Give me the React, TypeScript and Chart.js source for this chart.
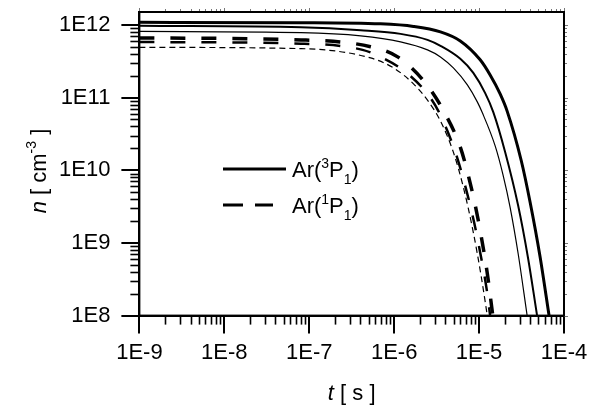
import React, { useEffect, useRef } from 'react';
import { Chart, registerables } from 'chart.js';

Chart.register(...registerables);

// ---------- axes ----------
const xTickValues = [1e-9, 1e-8, 1e-7, 1e-6, 1e-5, 1e-4];
const xTickLabels = ['1E-9', '1E-8', '1E-7', '1E-6', '1E-5', '1E-4'];
const yTickValues = [1e8, 1e9, 1e10, 1e11, 1e12];
const yTickLabels = ['1E8', '1E9', '1E10', '1E11', '1E12'];
const xMin = 1e-9;
const xMax = 1e-4;
const yMin = 1e8;
const yMax = 1.5e12;

// ---------- Ar(3P1) : solid curves ----------
const tSolidThick = [1e-9, 8e-8, 6.92e-7, 1.69e-6, 3.51e-6, 6.01e-6, 1.03e-5, 1.35e-5, 1.77e-5, 2.14e-5, 3.13e-5, 3.99e-5, 5.22e-5, 6.67e-5];
const nSolidThick = [1.08e12, 1.07e12, 1.03e12, 9.5e11, 8.0e11, 6.0e11, 3.3e11, 2.04e11, 1.12e11, 6.5e10, 1.37e10, 3.62e9, 6.5e8, 1e8];

const tSolidMedium = [1e-9, 8e-8, 4.04e-7, 1.19e-6, 2.47e-6, 3.51e-6, 6.01e-6, 8.55e-6, 1.18e-5, 1.47e-5, 2.03e-5, 2.88e-5, 3.78e-5, 4.82e-5];
const nSolidMedium = [9.7e11, 9.24e11, 8.4e11, 7.5e11, 6.2e11, 5.13e11, 3.4e11, 2.18e11, 1.15e11, 6.3e10, 1.77e10, 3.29e9, 6.1e8, 1e8];

const tSolidThin = [1e-9, 8e-8, 4.04e-7, 1.19e-6, 2.47e-6, 3.51e-6, 4.98e-6, 7.28e-6, 9.53e-6, 1.09e-5, 1.55e-5, 1.92e-5, 2.32e-5, 2.88e-5, 3.68e-5];
const nSolidThin = [8.1e11, 7.8e11, 7.05e11, 5.83e11, 4.52e11, 3.62e11, 2.55e11, 1.49e11, 8.7e10, 6.2e10, 2.14e10, 8.5e9, 3.09e9, 7.2e8, 1e8];

// ---------- Ar(1P1) : dashed curves ----------
const tDashThick = [1e-9, 8e-8, 5.28e-7, 1.1e-6, 2.34e-6, 4.01e-6, 6.01e-6, 7.46e-6, 9.27e-6, 1.09e-5, 1.25e-5, 1.45e-5];
const nDashThick = [6.6e11, 6.2e11, 5.0e11, 3.62e11, 1.58e11, 5.9e10, 2.08e10, 8.5e9, 2.8e9, 1.02e9, 3.8e8, 1e8];

const tDashMedium = [1e-9, 8e-8, 4.25e-7, 7.31e-7, 1.36e-6, 2.47e-6, 3.32e-6, 5.26e-6, 6.89e-6, 8.79e-6, 1.03e-5, 1.22e-5, 1.35e-5];
const nDashMedium = [5.8e11, 5.5e11, 4.52e11, 3.5e11, 2.25e11, 1.12e11, 6.5e10, 1.77e10, 6.0e9, 1.86e9, 7.4e8, 2.43e8, 1e8];

const tDashThin = [1e-9, 8e-8, 5.28e-7, 9.84e-7, 1.69e-6, 2.47e-6, 3.51e-6, 4.98e-6, 6.53e-6, 8.55e-6, 1.06e-5, 1.25e-5];
const nDashThin = [4.9e11, 4.7e11, 3.5e11, 2.55e11, 1.54e11, 9.2e10, 4.74e10, 1.77e10, 5.83e9, 1.4e9, 3.45e8, 1e8];

// ---------- legend ----------
const legendSpecies = ['Ar(', 'Ar('];
const legendSuperscripts = ['3', '1'];
const legendLetters = ['P', 'P'];
const legendSubscripts = ['1', '1'];

const FONT = '"Liberation Sans", Arial, Helvetica, sans-serif';

type Part = { text: string; size: number; italic?: boolean; dy?: number };

function fontOf(p: Part) {
  return `${p.italic ? 'italic ' : ''}${p.size}px ${FONT}`;
}

function drawRich(ctx: CanvasRenderingContext2D, parts: Part[], x: number, y: number, center: boolean) {
  let total = 0;
  for (const p of parts) {
    ctx.font = fontOf(p);
    total += ctx.measureText(p.text).width;
  }
  let cx = center ? x - total / 2 : x;
  ctx.textAlign = 'left';
  ctx.textBaseline = 'alphabetic';
  for (const p of parts) {
    ctx.font = fontOf(p);
    ctx.fillText(p.text, cx, y + (p.dy || 0));
    cx += ctx.measureText(p.text).width;
  }
}

function seg(ctx: CanvasRenderingContext2D, x1: number, y1: number, x2: number, y2: number) {
  ctx.beginPath();
  ctx.moveTo(x1, y1);
  ctx.lineTo(x2, y2);
  ctx.stroke();
}

const decorPlugin = {
  id: 'decor',
  afterDraw(chart: any) {
    const { ctx, chartArea: a, scales } = chart;
    const xs = scales.x;
    const ys = scales.y;
    ctx.save();
    ctx.strokeStyle = '#000';
    ctx.fillStyle = '#000';

    // minor ticks bottom (outward) and small marks on top
    for (let e = -9; e < -4; e++) {
      for (let m = 2; m <= 9; m++) {
        const v = m * Math.pow(10, e);
        const px = Math.round(xs.getPixelForValue(v)) + 0.5;
        ctx.lineWidth = 1.6;
        ctx.strokeStyle = '#000';
        seg(ctx, px, a.bottom, px, a.bottom + 9);
        ctx.lineWidth = 1;
        ctx.strokeStyle = '#777';
        seg(ctx, px, a.top, px, a.top - 3);
      }
    }
    for (const v of xTickValues) {
      const px = Math.round(xs.getPixelForValue(v)) + 0.5;
      ctx.lineWidth = 1;
      ctx.strokeStyle = '#777';
      seg(ctx, px, a.top, px, a.top - 4);
    }
    // minor ticks left (outward) and small marks on right
    for (let e = 8; e <= 12; e++) {
      for (let m = 2; m <= 9; m++) {
        const v = m * Math.pow(10, e);
        if (v > yMax) continue;
        const py = Math.round(ys.getPixelForValue(v)) + 0.5;
        ctx.lineWidth = 1.6;
        ctx.strokeStyle = '#000';
        seg(ctx, a.left - 9, py, a.left, py);
        ctx.lineWidth = 1;
        ctx.strokeStyle = '#777';
        seg(ctx, a.right, py, a.right + 3, py);
      }
    }
    for (const v of yTickValues) {
      const py = Math.round(ys.getPixelForValue(v)) + 0.5;
      ctx.lineWidth = 1;
      ctx.strokeStyle = '#777';
      seg(ctx, a.right, py, a.right + 4, py);
    }

    // frame
    ctx.strokeStyle = '#000';
    ctx.lineWidth = 2;
    ctx.strokeRect(a.left, a.top, a.right - a.left, a.bottom - a.top);

    // legend
    const lx = 223;
    const ly = [169, 205];
    ctx.lineWidth = 3;
    ctx.setLineDash([]);
    seg(ctx, lx, ly[0], lx + 63, ly[0]);
    ctx.setLineDash([20, 12]);
    seg(ctx, lx, ly[1], lx + 50, ly[1]);
    ctx.setLineDash([]);
    for (let i = 0; i < 2; i++) {
      drawRich(ctx, [
        { text: legendSpecies[i], size: 22 },
        { text: legendSuperscripts[i], size: 14, dy: -9 },
        { text: legendLetters[i], size: 22 },
        { text: legendSubscripts[i], size: 14, dy: 7 },
        { text: ')', size: 22 },
      ], 292, ly[i] + 8, false);
    }

    // x title
    drawRich(ctx, [
      { text: 't', size: 22, italic: true },
      { text: ' [ s ]', size: 22 },
    ], (a.left + a.right) / 2, 400, true);

    // y title (rotated)
    ctx.translate(46, 171);
    ctx.rotate(-Math.PI / 2);
    drawRich(ctx, [
      { text: 'n', size: 22, italic: true },
      { text: ' [ cm', size: 22 },
      { text: '-3', size: 14, dy: -10 },
      { text: ' ]', size: 22 },
    ], 0, 0, true);
    ctx.restore();
  },
};

function pts(t: number[], n: number[]) {
  return t.map((v, i) => ({ x: v, y: n[i] }));
}

export default function App() {
  const ref = useRef<HTMLCanvasElement>(null);

  useEffect(() => {
    const mk = (t: number[], n: number[], w: number, dash: number[]) => ({
      data: pts(t, n),
      borderColor: '#000',
      backgroundColor: '#000',
      borderWidth: w,
      borderDash: dash,
      pointRadius: 0,
      fill: false,
      cubicInterpolationMode: 'monotone' as const,
    });

    const chart = new Chart(ref.current as HTMLCanvasElement, {
      type: 'line',
      data: {
        datasets: [
          mk(tSolidThin, nSolidThin, 1.2, []),
          mk(tSolidMedium, nSolidMedium, 2, []),
          mk(tSolidThick, nSolidThick, 3, []),
          mk(tDashThin, nDashThin, 1.2, [6, 4]),
          mk(tDashMedium, nDashMedium, 2.5, [15, 16]),
          mk(tDashThick, nDashThick, 3.5, [15, 16]),
        ],
      },
      options: {
        animation: false,
        responsive: false,
        events: [],
        layout: { padding: { left: 48, right: 25, top: 12, bottom: 33 } },
        plugins: { legend: { display: false }, tooltip: { enabled: false } },
        scales: {
          x: {
            type: 'logarithmic',
            min: xMin,
            max: xMax,
            afterBuildTicks: (s: any) => {
              s.ticks = xTickValues.map((v) => ({ value: v }));
            },
            afterFit: (s: any) => {
              s.paddingLeft = 0;
              s.paddingRight = 0;
            },
            ticks: {
              callback: (_v: any, i: number) => xTickLabels[i],
              font: { family: FONT, size: 22 },
              color: '#000',
              padding: 6,
              autoSkip: false,
              maxRotation: 0,
              minRotation: 0,
            },
            grid: { display: true, drawOnChartArea: false, drawTicks: true, tickLength: 18, lineWidth: 2, color: '#000' },
            border: { display: true, width: 2, color: '#000' },
          },
          y: {
            type: 'logarithmic',
            min: yMin,
            max: yMax,
            afterBuildTicks: (s: any) => {
              s.ticks = yTickValues.map((v) => ({ value: v }));
            },
            afterFit: (s: any) => {
              s.paddingTop = 0;
              s.paddingBottom = 0;
            },
            ticks: {
              callback: (_v: any, i: number) => yTickLabels[i],
              font: { family: FONT, size: 22 },
              color: '#000',
              padding: 11,
              autoSkip: false,
            },
            grid: { display: true, drawOnChartArea: false, drawTicks: true, tickLength: 18, lineWidth: 2, color: '#000' },
            border: { display: true, width: 2, color: '#000' },
          },
        },
      },
      plugins: [decorPlugin],
    } as any);
    return () => chart.destroy();
  }, []);

  return (
    <div style={{ position: 'fixed', left: 0, top: 0, width: 589, height: 405, background: '#fff' }}>
      <canvas ref={ref} width={589} height={405} style={{ width: 589, height: 405, display: 'block' }} />
    </div>
  );
}
